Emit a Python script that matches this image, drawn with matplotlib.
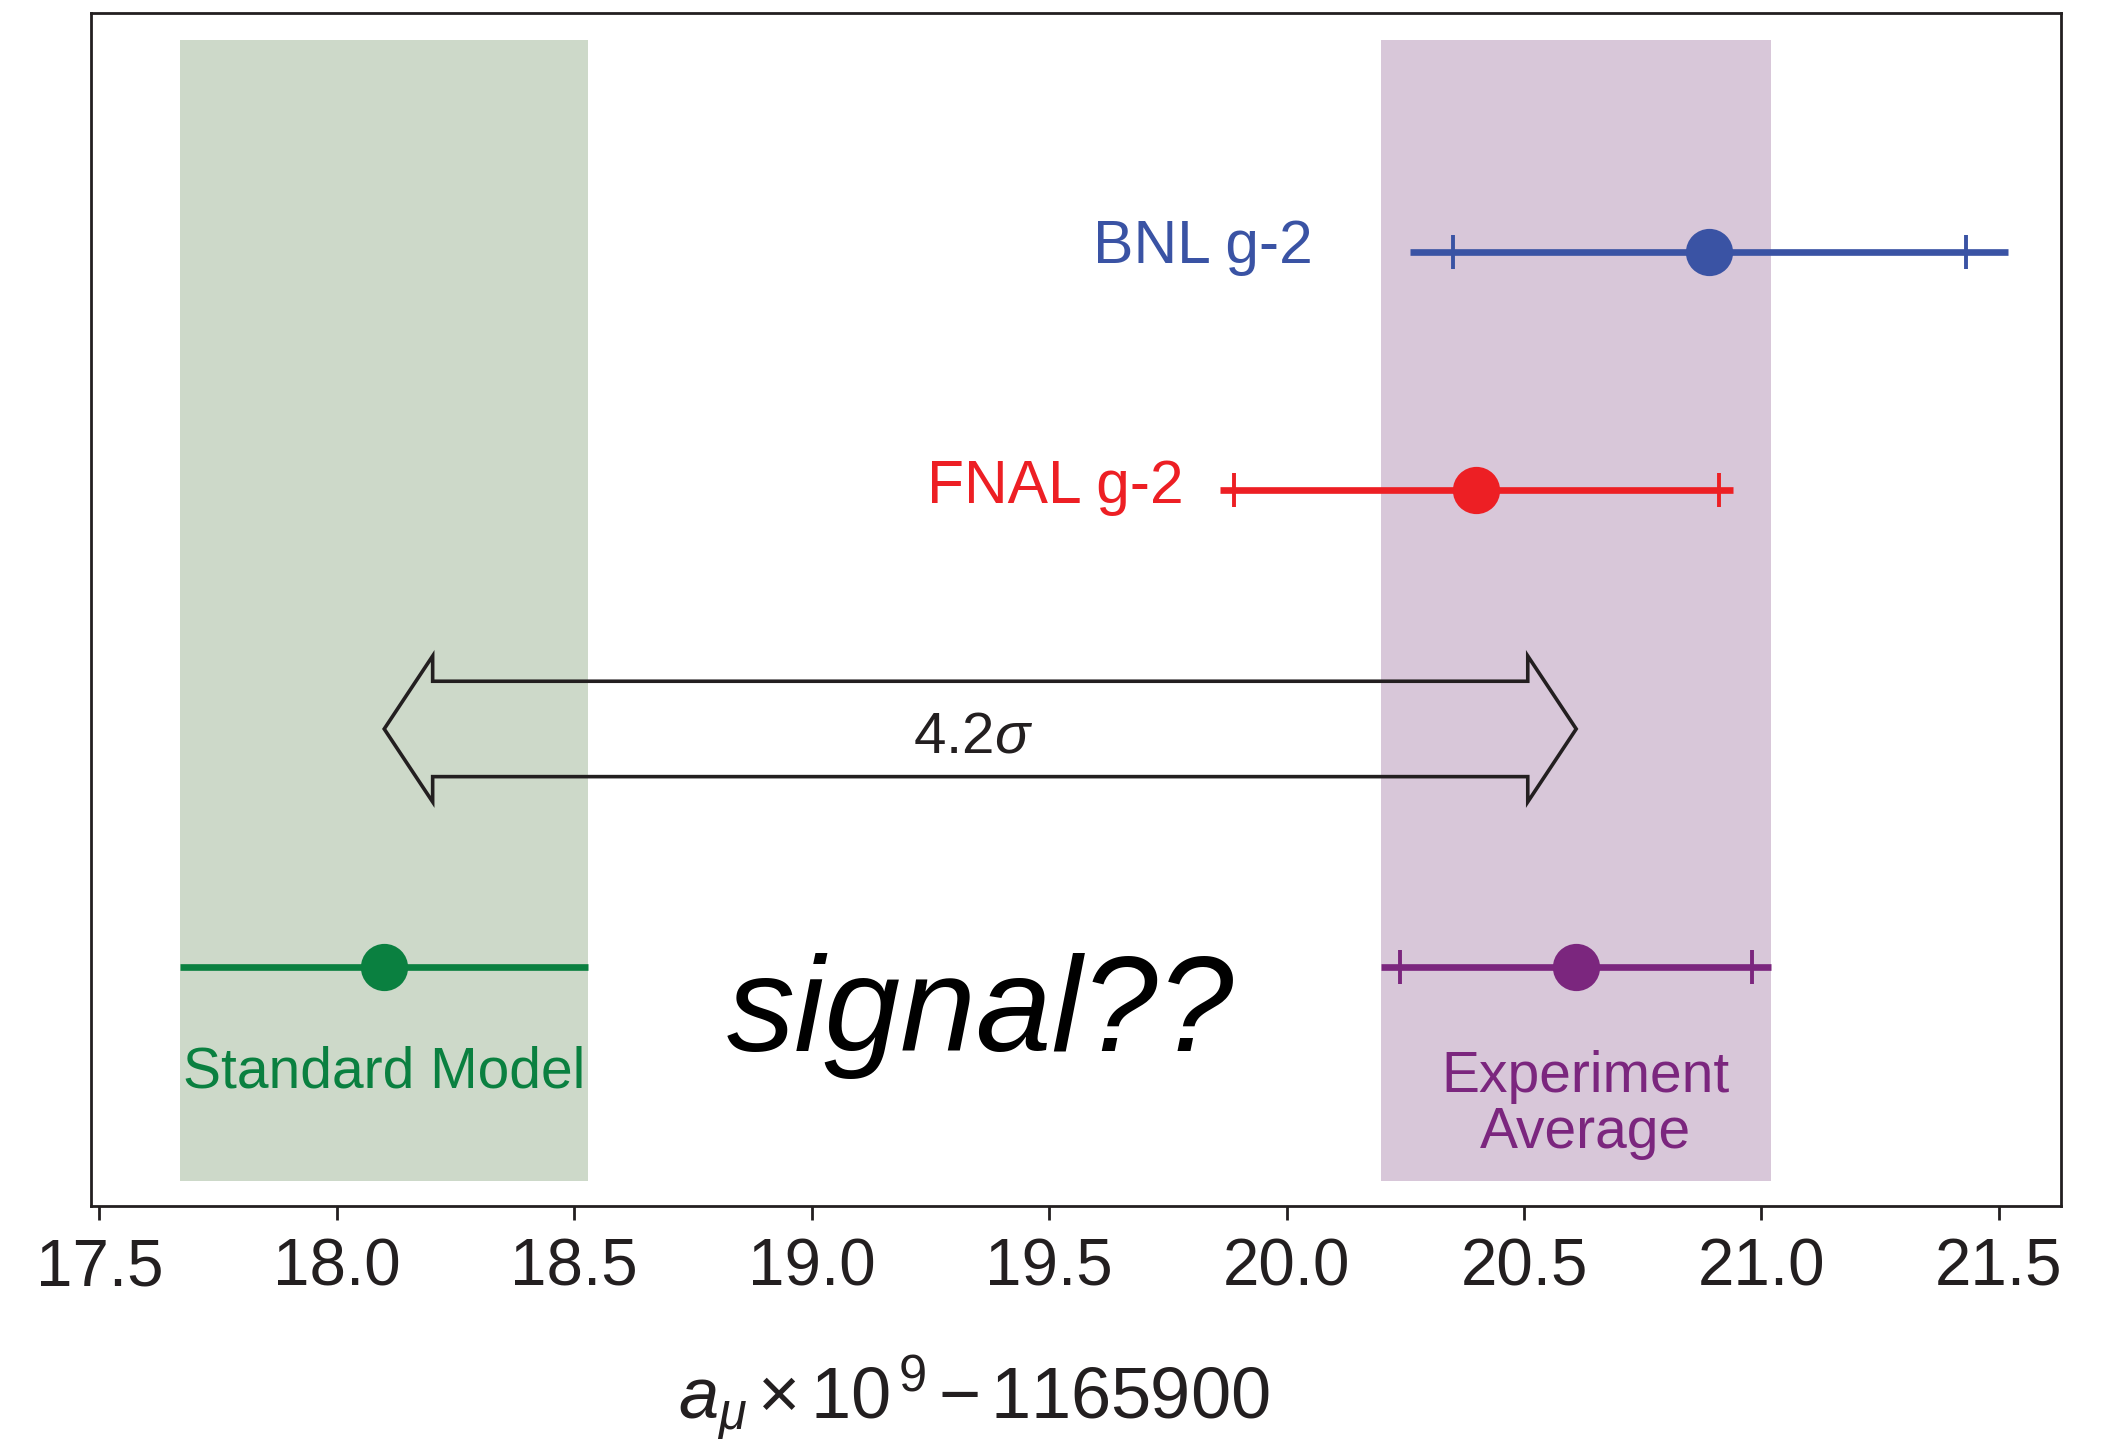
import matplotlib.pyplot as plt
from matplotlib.patches import Polygon

plt.rcParams['font.family'] = ['Liberation Sans', 'DejaVu Sans']
plt.rcParams['mathtext.fontset'] = 'custom'
plt.rcParams['mathtext.rm'] = 'Liberation Sans'
plt.rcParams['mathtext.it'] = 'Liberation Sans:italic'

# measurements, a_mu x 1e9 - 1165900
exp_names = ['BNL g-2', 'FNAL g-2']
exp_vals = [20.89, 20.40]
exp_tot = [0.63, 0.54]
exp_stat = [0.54, 0.51]
exp_colors = ['#3A53A4', '#ED1F24']

avg_name = 'Experiment\nAverage'
avg_val = 20.61
avg_tot = 0.41
avg_inner = 0.37

sm_name = 'Standard Model'
sm_val = 18.10
sm_err = 0.43

sigma_text = r'4.2$\sigma$'
xticks = [17.5, 18.0, 18.5, 19.0, 19.5, 20.0, 20.5, 21.0, 21.5]

dark = '#231F20'
green = '#0A8040'
purple = '#7B267E'

fig = plt.figure(figsize=(10.575, 7.235), dpi=200)
ax = fig.add_axes([0.0429, 0.1666, 0.9316, 0.8241])
ax.set_xlim(17.482, 21.631)
ax.set_ylim(0, 5)

# bands
ax.axvspan(sm_val - sm_err, sm_val + sm_err, ymin=0.021, ymax=0.978,
           color='#CDD9C9', lw=0, zorder=0)
ax.axvspan(avg_val - avg_tot, avg_val + avg_tot, ymin=0.021, ymax=0.978,
           color='#D8C7D9', lw=0, zorder=0)

lw = 2.4
ms = 16
# experiments
exp_y = [4, 3]
for v, tot, st, c, y in zip(exp_vals, exp_tot, exp_stat, exp_colors, exp_y):
    ax.plot([v - tot, v + tot], [y, y], color=c, lw=lw, solid_capstyle='butt', zorder=2)
    ax.plot([v - st, v + st], [y, y], ls='none', marker='|', ms=12, mew=1.4, color=c, zorder=2)
    ax.plot(v, y, 'o', ms=ms, color=c, zorder=3)

ax.text(20.056, 3.954, exp_names[0], color=exp_colors[0], fontsize=21.8,
        ha='right', va='baseline')
ax.text(19.784, 2.948, exp_names[1], color=exp_colors[1], fontsize=21.8,
        ha='right', va='baseline')

# average
ax.plot([avg_val - avg_tot, avg_val + avg_tot], [1, 1], color=purple, lw=lw,
        solid_capstyle='butt', zorder=2)
ax.plot([avg_val - avg_inner, avg_val + avg_inner], [1, 1], ls='none', marker='|',
        ms=12, mew=1.4, color=purple, zorder=2)
ax.plot(avg_val, 1, 'o', ms=ms, color=purple, zorder=3)
ax.text(avg_val + 0.02, 0.243, avg_name, color=purple, fontsize=20.5,
        ha='center', va='baseline', linespacing=1.05)

# standard model
ax.plot([sm_val - sm_err, sm_val + sm_err], [1, 1], color=green, lw=lw,
        solid_capstyle='butt', zorder=2)
ax.plot(sm_val, 1, 'o', ms=ms, color=green, zorder=3)
ax.text(sm_val, 0.495, sm_name, color=green, fontsize=20.5, ha='center', va='baseline')

# double arrow between SM and average
def double_arrow(x0, x1, y, half_w=0.2, head_half=0.306, head_len=0.102):
    pts = [(x0, y), (x0 + head_len, y + head_half), (x0 + head_len, y + half_w),
           (x1 - head_len, y + half_w), (x1 - head_len, y + head_half), (x1, y),
           (x1 - head_len, y - head_half), (x1 - head_len, y - half_w),
           (x0 + head_len, y - half_w), (x0 + head_len, y - head_half)]
    return Polygon(pts, closed=True, fill=False, ec=dark, lw=1.3, joinstyle='miter', zorder=4)

ax.add_patch(double_arrow(sm_val, avg_val, 2.0))
mid = (sm_val + avg_val) / 2
ax.text(mid - 0.015, 1.90, sigma_text, color=dark, fontsize=21, ha='center', va='baseline')
ax.text(mid, 0.65, 'signal??', style='italic', color='black', fontsize=49,
        ha='center', va='baseline')

# axes styling
ax.set_xticks(xticks)
ax.set_xticklabels([f'{t:.1f}' for t in xticks])
ax.set_yticks([])
ax.tick_params(axis='x', direction='out', length=5, width=1.0, pad=6.5,
               labelsize=23.6, colors=dark)
for s in ax.spines.values():
    s.set_linewidth(1.0)
    s.set_color(dark)

ax.set_xlabel(r'$a_{\mu}\,\mathrm{\times\,10}^{\,9}\,\mathrm{-\,1165900}$', fontsize=26, color=dark)
ax.xaxis.set_label_coords(0.448, -0.1786)
ax.xaxis.label.set_va('baseline')

fig.savefig('out.png', dpi=200)
